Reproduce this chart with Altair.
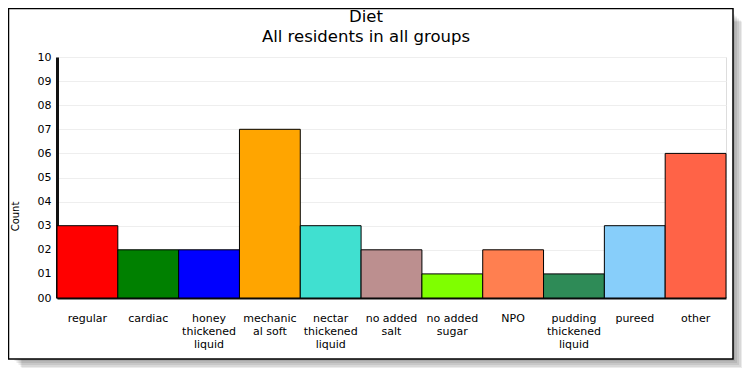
import altair as alt
import pandas as pd

categories = ["regular", "cardiac", "honey|thickened|liquid", "mechanic|al soft",
              "nectar|thickened|liquid", "no added|salt", "no added|sugar", "NPO",
              "pudding|thickened|liquid", "pureed", "other"]
counts = [3, 2, 2, 7, 3, 2, 1, 2, 1, 3, 6]
colors = ["#ff0000", "#008000", "#0000ff", "#ffa500", "#40e0d0", "#bc8f8f",
          "#7fff00", "#ff7f50", "#2e8b57", "#87cefa", "#ff6347"]
y_ticks = list(range(0, 11))
title_lines = ["Diet", "All residents in all groups"]

df = pd.DataFrame({"diet": categories, "count": counts, "color": colors})
one = pd.DataFrame({"k": [0]})

W, H = 669, 241
PL, PT = 49, 49
TOTAL_W, TOTAL_H = 734, 366
FONT = "DejaVu Sans"

fx, fx2 = -PL + 0.5, 725 - PL
fy, fy2 = -PT + 0.5, 351 - PT

layers = []
# shadow strips (decoration)
for k in [2, 4, 6, 8, 9]:
    layers.append(alt.Chart(one).mark_rect(color="black", opacity=0.08).encode(
        x=alt.value(fx2), x2=alt.value(fx2 + k), y=alt.value(fy + k + 4), y2=alt.value(fy2 + k)))
    layers.append(alt.Chart(one).mark_rect(color="black", opacity=0.08).encode(
        x=alt.value(fx + k + 4), x2=alt.value(fx2), y=alt.value(fy2), y2=alt.value(fy2 + k)))
# frame
layers.append(alt.Chart(one).mark_rect(fill=None, fillOpacity=0, stroke="black", strokeWidth=1.5).encode(
    x=alt.value(fx), x2=alt.value(fx2), y=alt.value(fy), y2=alt.value(fy2)))

# title lines
for line, yb in zip(title_lines, [-35, -15]):
    layers.append(alt.Chart(pd.DataFrame({"t": [line]})).mark_text(
        font=FONT, fontSize=16.5, color="black", align="center", baseline="alphabetic").encode(
        text="t:N", x=alt.value(309), y=alt.value(yb)))

bars = alt.Chart(df).mark_bar(stroke="black", strokeWidth=1, opacity=1).encode(
    x=alt.X("diet:N", sort=categories,
            scale=alt.Scale(paddingInner=0, paddingOuter=0),
            axis=alt.Axis(title=None, labelAngle=0, labelExpr="split(datum.label, '|')",
                          labelLineHeight=13, labelPadding=14, labelFontSize=11,
                          labelFont=FONT, labelColor="black", ticks=False,
                          domainColor="#111", domainWidth=2, labelOverlap=False,
                          labelLimit=300, labelBaseline="top")),
    y=alt.Y("count:Q", scale=alt.Scale(domain=[0, 10], nice=False),
            axis=alt.Axis(values=y_ticks, format="02d", title="Count", titleFontSize=10,
                          titleFont=FONT, titleFontWeight="normal", titleColor="black",
                          titleX=-47, titleY=159, titleBaseline="top", grid=True,
                          gridColor="#eeeeee", ticks=False, domainWidth=3, domainColor="#111",
                          labelPadding=6, labelFontSize=11, labelFont=FONT, labelColor="black")),
    color=alt.Color("color:N", scale=None),
)
layers.append(bars)

chart = alt.layer(*layers).properties(
    width=W, height=H,
    autosize=alt.AutoSizeParams(type="none"),
    padding={"left": PL, "top": PT, "right": TOTAL_W - PL - W, "bottom": TOTAL_H - PT - H},
).configure_view(stroke=None).configure(background="white")

chart.save("out.html", embed_options={"renderer": "svg", "actions": False})
